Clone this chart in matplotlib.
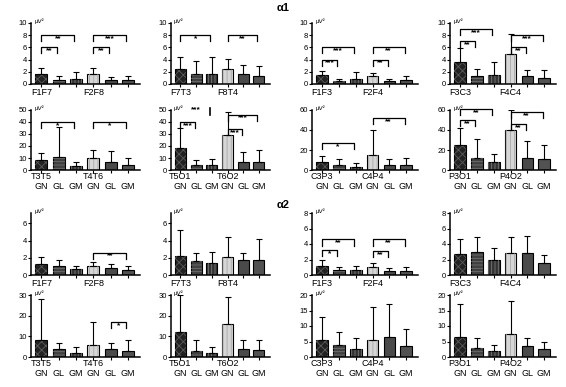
import matplotlib
matplotlib.use("Agg")
import matplotlib.pyplot as plt
import numpy as np

# Groups and electrode pairs
GROUPS = ["GN", "GL", "GM"]
PAIRS_UPPER = [("F1F7", "F2F8"), ("F7T3", "F8T4"), ("F1F3", "F2F4"), ("F3C3", "F4C4")]
PAIRS_LOWER = [("T3T5", "T4T6"), ("T5O1", "T6O2"), ("C3P3", "C4P4"), ("P3O1", "P4O2")]

# alpha1, upper row (means and SD, order GN GL GM GN GL GM)
A1_UP_MEAN = [[1.6, 0.7, 0.9, 1.6, 0.7, 0.6],
              [2.5, 1.7, 1.6, 2.5, 1.6, 1.3],
              [1.4, 0.5, 0.8, 1.3, 0.5, 0.6],
              [3.6, 1.3, 1.4, 4.9, 1.3, 1.0]]
A1_UP_SD = [[1.1, 0.6, 1.1, 1.0, 0.4, 0.7],
            [2.0, 2.0, 2.8, 1.6, 1.5, 1.7],
            [0.8, 0.4, 1.1, 0.5, 0.4, 0.7],
            [2.3, 1.2, 2.2, 3.3, 1.0, 1.3]]
A1_UP_SIG = [[(0, 1, 6, "**"), (0, 2, 8, "**"), (3, 4, 6, "**"), (3, 5, 8, "***")],
             [(0, 2, 8, "*"), (3, 5, 8, "**")],
             [(0, 1, 4, "***"), (0, 2, 6, "***"), (3, 4, 4, "**"), (3, 5, 6, "**")],
             [(0, 1, 7, "**"), (0, 2, 9, "***"), (3, 4, 6, "**"), (3, 5, 8, "***")]]
A1_UP_YTICKS = [[0, 2, 4, 6, 8, 10]] * 4

# alpha1, lower row
A1_LO_MEAN = [[8, 11, 3.5, 10, 7, 4.5],
              [18, 4, 4, 29, 6.5, 7],
              [8, 5, 3, 15, 5, 5],
              [25, 12, 8, 40, 12, 11]]
A1_LO_SD = [[6, 25, 3.5, 7, 9, 5.5],
            [17, 4, 5, 19, 8.5, 10],
            [6, 6, 4, 25, 6, 7],
            [17, 19, 8, 20, 17, 14]]
A1_LO_SIG = [[(0, 2, 40, "*"), (3, 5, 40, "*")],
             [(0, 1, 40, "***"), (3, 4, 34, "***"), (3, 5, 46, "***")],
             [(0, 2, 27, "*"), (3, 5, 52, "**")],
             [(0, 1, 50, "**"), (0, 2, 61, "**"), (3, 4, 46, "**"), (3, 5, 58, "**")]]
A1_LO_YTICKS = [[0, 10, 20, 30, 40, 50], [0, 10, 20, 30, 40, 50],
                [0, 20, 40, 60], [0, 20, 40, 60]]

# alpha2, upper row
A2_UP_MEAN = [[1.3, 1.0, 0.7, 1.1, 0.85, 0.6],
              [2.2, 1.6, 1.4, 2.1, 1.7, 1.8],
              [1.2, 0.6, 0.6, 1.0, 0.5, 0.5],
              [2.7, 3.0, 2.0, 2.9, 2.8, 1.5]]
A2_UP_SD = [[0.8, 0.7, 0.4, 0.4, 0.45, 0.5],
            [3.0, 0.9, 1.3, 2.3, 0.9, 2.4],
            [0.8, 0.4, 0.5, 0.5, 0.4, 0.5],
            [1.9, 1.9, 1.5, 2.0, 2.2, 1.1]]
A2_UP_SIG = [[(3, 5, 2.6, "**")],
             [],
             [(0, 1, 3.2, "*"), (0, 2, 4.6, "**"), (3, 4, 3.1, "**"), (3, 5, 4.6, "**")],
             []]
A2_UP_YTICKS = [[0, 2, 4, 6], [0, 2, 4, 6], [0, 2, 4, 6, 8], [0, 2, 4, 6, 8]]
A2_UP_YMAX = [7.2, 7.2, 8, 8]

# alpha2, lower row
A2_LO_MEAN = [[8, 4, 2, 6, 4, 3],
              [12, 3, 2, 16, 4, 3.5],
              [5.5, 4, 2.5, 5.5, 6.5, 3.5],
              [6.5, 3, 2, 7.5, 3.5, 2.5]]
A2_LO_SD = [[20, 3, 3, 11, 3, 5],
            [18, 5, 3, 13, 4, 4.5],
            [7.5, 4, 3.5, 10.5, 10.5, 5.5],
            [10.5, 3, 2, 10.5, 2.5, 2.5]]
A2_LO_SIG = [[(4, 5, 17, "*")], [], [], []]
A2_LO_YTICKS = [[0, 10, 20, 30], [0, 10, 20, 30], [0, 5, 10, 15, 20], [0, 5, 10, 15, 20]]

# bar styles: face, hatch, hatch colour
STYLES = [("#222222", "xxxx", "#5a5a5a"),
          ("#404040", "-----", "#707070"),
          ("#333333", "|||||", "#7a7a7a"),
          ("#d6d6d6", "||||", "#a8a8a8"),
          ("#4a4a4a", None, None),
          ("#525252", None, None)]

W, H = 566, 387
COL_X = [(31, 140), (171, 270), (312, 418), (450, 556)]
ROW_Y = [(23, 84), (110, 170), (213, 275), (295, 357)]


def draw_panel(ax, mean, sd, sig, yticks, ymax, pair, lower):
    x = np.arange(6)
    for xi, m, (fc, hatch, hc) in zip(x, mean, STYLES):
        ax.bar(xi, m, 0.7, color=fc, edgecolor="black", linewidth=0.8, zorder=2)
        if hatch:
            ax.bar(xi, m, 0.7, color="none", edgecolor=hc, hatch=hatch,
                   linewidth=0, zorder=2.5)
    ax.errorbar(x, mean, yerr=[np.zeros(6), sd], fmt="none", ecolor="black",
                elinewidth=0.8, capsize=2.2, capthick=0.8, zorder=3)

    # significance brackets
    leg = 0.1 * ymax
    for i, j, y, txt in sig:
        x0, x1 = i, j - 0.1
        ax.plot([x0, x0, x1, x1], [y - leg, y, y, y - leg], color="black",
                lw=0.9, clip_on=False, zorder=4)
        ax.text((x0 + x1) / 2, y - leg * 0.55, txt, ha="center", va="center",
                fontsize=6, fontweight="bold", clip_on=False)

    ax.set_xlim(-0.6, 5.7)
    ax.set_ylim(0, ymax)
    ax.set_yticks(yticks)
    ax.set_xticks(x)
    if lower:
        # group names on the second line, pair names just under the axis
        ax.set_xticklabels(GROUPS * 2, fontsize=6.5)
        ax.tick_params(axis="x", pad=6.5)
        for xi, name in zip([0, 3], pair):
            ax.text(xi, -0.03, name, transform=ax.get_xaxis_transform(),
                    ha="center", va="top", fontsize=6.5)
    else:
        ax.set_xticklabels([pair[0], "", "", pair[1], "", ""], fontsize=6.5)
        ax.tick_params(axis="x", pad=1)
    ax.tick_params(axis="x", length=2, width=0.8)
    ax.tick_params(axis="y", length=2, width=0.8, pad=1, labelsize=5.5)
    for side in ["top", "right"]:
        ax.spines[side].set_visible(False)
    for side in ["left", "bottom"]:
        ax.spines[side].set_linewidth(1.1)
    ax.text(0.03, 0.98, "µV²", transform=ax.transAxes, fontsize=4.5,
            ha="left", va="bottom")


def main():
    plt.rcParams["font.family"] = ["Liberation Sans", "DejaVu Sans"]
    plt.rcParams["hatch.linewidth"] = 0.6
    fig = plt.figure(figsize=(W / 100, H / 100), dpi=100)

    rows = [
        (A1_UP_MEAN, A1_UP_SD, A1_UP_SIG, A1_UP_YTICKS, [10] * 4, PAIRS_UPPER, False),
        (A1_LO_MEAN, A1_LO_SD, A1_LO_SIG, A1_LO_YTICKS, [50, 50, 60, 60], PAIRS_LOWER, True),
        (A2_UP_MEAN, A2_UP_SD, A2_UP_SIG, A2_UP_YTICKS, A2_UP_YMAX, PAIRS_UPPER, False),
        (A2_LO_MEAN, A2_LO_SD, A2_LO_SIG, A2_LO_YTICKS, [30, 30, 20, 20], PAIRS_LOWER, True),
    ]

    for r, (means, sds, sigs, ticks, ymaxs, pairs, lower) in enumerate(rows):
        top, bottom = ROW_Y[r]
        for c in range(4):
            left, right = COL_X[c]
            ax = fig.add_axes([left / W, 1 - bottom / H, (right - left) / W, (bottom - top) / H])
            draw_panel(ax, means[c], sds[c], sigs[c], ticks[c], ymaxs[c], pairs[c], lower)
            # clipped bracket at top of T5O1 panel
            if r == 1 and c == 1:
                ax.text(1, 50.5, "***", ha="center", va="center", fontsize=6,
                        fontweight="bold", clip_on=False)
                ax.plot([1.9, 1.9], [46, 52], color="black", lw=1.2, clip_on=False)

    fig.text(283 / W, 1 - 8 / H, "α1", ha="center", va="center", fontsize=8, fontweight="bold")
    fig.text(283 / W, 1 - 205 / H, "α2", ha="center", va="center", fontsize=8, fontweight="bold")

    fig.savefig("out.png", dpi=100)


if __name__ == "__main__":
    main()
